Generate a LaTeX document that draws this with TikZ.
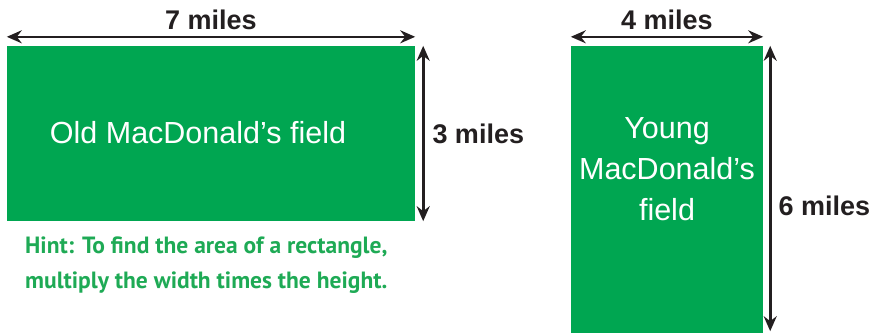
\documentclass[tikz,border=0pt]{standalone}
\usepackage{fontspec}
\setmainfont{Liberation Sans}
\newfontfamily\hintfont{PT Sans}
\usetikzlibrary{arrows.meta,positioning,calc}
\definecolor{fieldgreen}{RGB}{0,166,81}
\definecolor{hintgreen}{RGB}{30,170,85}
\definecolor{inkdark}{RGB}{35,31,32}
\tikzset{
  field/.style={fill=fieldgreen,inner sep=0pt},
  fieldtext/.style={text=white,font=\fontsize{30.5}{41}\selectfont,align=center,inner sep=0pt},
  dimarrow/.style={draw=inkdark,line width=2.6pt,
    {Stealth[length=15pt,width=13pt,inset=5pt]}-{Stealth[length=15pt,width=13pt,inset=5pt]}},
  dimlabel/.style={text=inkdark,font=\bfseries\fontsize{27}{30}\selectfont,inner sep=0pt},
}

\begin{document}
\begin{tikzpicture}[x=1pt,y=-1pt]
\useasboundingbox (0,0) rectangle (872,333);
% the two fields
\node[field,minimum width=408pt,minimum height=175pt](old) at (211,133.5) {};
\node[field,minimum width=192pt,minimum height=287pt](young) at (667,189.5) {};
\node[fieldtext](oldtext) at (198,133) {Old MacDonald's field};
\node[fieldtext](youngtext) at (667,169) {Young\\MacDonald's\\field};
% dimensions
\coordinate (oldtl) at ([yshift=9pt]old.north west);
\coordinate (oldtr) at ([yshift=9pt]old.north east);
\coordinate (oldrt) at ([xshift=8pt]old.north east);
\coordinate (oldrb) at ([xshift=8pt]old.south east);
\coordinate (youngtl) at ([yshift=9pt]young.north west);
\coordinate (youngtr) at ([yshift=9pt]young.north east);
\coordinate (youngrt) at ([xshift=7pt]young.north east);
\coordinate (youngrb) at ([xshift=7pt,yshift=2pt]young.south east);
\draw[dimarrow] (oldtl) -- (oldtr) node[dimlabel,midway,above=6pt](oldw) {7 miles};
\draw[dimarrow] (oldrt) -- (oldrb) node[dimlabel,midway,right=8pt](oldh) {3 miles};
\draw[dimarrow] (youngtl) -- (youngtr) node[dimlabel,midway,above=6pt](youngw) {4 miles};
\draw[dimarrow] (youngrt) -- (youngrb) node[dimlabel,pos=0.56,right=7pt](youngh) {6 miles};
% hint
\node[text=hintgreen,font=\hintfont\bfseries\fontsize{23.5}{35}\selectfont,align=left,anchor=west,inner sep=0pt](hint) at (25,265.5)
  {Hint: To find the area of a rectangle,\\multiply the width times the height.};
\end{tikzpicture}
\end{document}
